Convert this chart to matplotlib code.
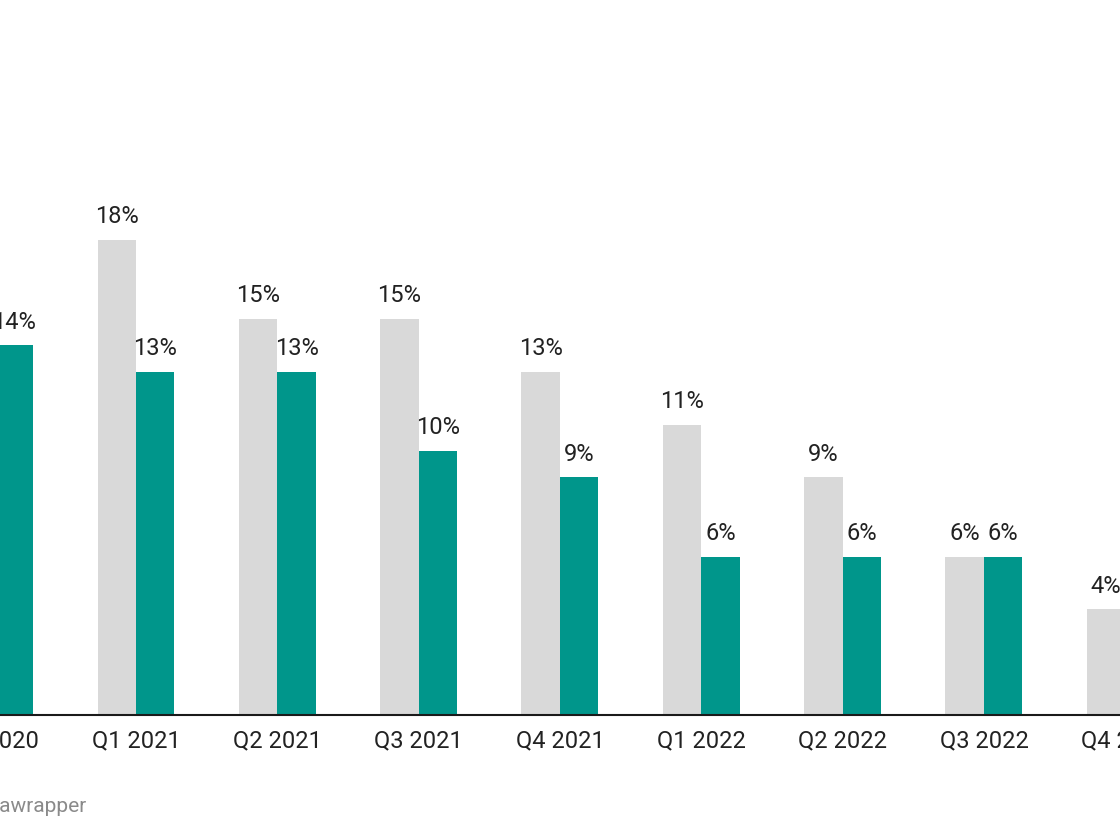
import numpy as np
import matplotlib
matplotlib.use("Agg")
import matplotlib.pyplot as plt
from matplotlib.transforms import ScaledTranslation

categories = ["Q4 2020", "Q1 2021", "Q2 2021", "Q3 2021", "Q4 2021",
              "Q1 2022", "Q2 2022", "Q3 2022", "Q4 2022"]
grey_values = [np.nan, 18, 15, 15, 13, 11, 9, 6, 4]
teal_values = [14, 13, 13, 10, 9, 6, 6, 6, np.nan]

GREY = "#d9d9d9"
TEAL = "#00968b"
TEXT = "#222222"
FS = 17

plt.rcParams["font.family"] = ["Roboto", "DejaVu Sans"]

fig = plt.figure(figsize=(11.2, 8.4), dpi=100)
ax = fig.add_axes([0, 125 / 840, 1, 715 / 840])

x = np.arange(len(categories))
w = 0.2724
ax.bar(x - w / 2, grey_values, width=w, color=GREY, linewidth=0, zorder=2)
ax.bar(x + w / 2, teal_values, width=w, color=TEAL, linewidth=0, zorder=2)

for xi, v in zip(x - w / 2, grey_values):
    if not np.isnan(v):
        ax.annotate(f"{v:.0f}%", (xi, v), xytext=(0, 12), textcoords="offset points",
                    ha="center", va="baseline", fontsize=FS, color=TEXT)
for xi, v in zip(x + w / 2, teal_values):
    if not np.isnan(v):
        ax.annotate(f"{v:.0f}%", (xi, v), xytext=(0, 12), textcoords="offset points",
                    ha="center", va="baseline", fontsize=FS, color=TEXT)

ax.set_xticks([])
ax.set_yticks([])
ax.set_xlim(5.33 / 141.33, 1125.33 / 141.33)
ax.set_ylim(0, 715 / 26.4)

# category labels below the baseline (including partially visible edge groups)
label_tr = ax.get_xaxis_transform() + ScaledTranslation(0, -32.3 / 100, fig.dpi_scale_trans)
for xi, cat in zip(x, categories):
    ax.text(xi, 0, cat, transform=label_tr, ha="center", va="baseline",
            fontsize=FS, color=TEXT, clip_on=False)

for s in ["top", "left", "right"]:
    ax.spines[s].set_visible(False)
ax.spines["bottom"].set_color("#1a1a1a")
ax.spines["bottom"].set_linewidth(1.5)
ax.spines["bottom"].set_zorder(3)
ax.patch.set_alpha(0)

fig.text(86 / 1120, (840 - 811.7) / 840, "Created with Datawrapper",
         ha="right", va="baseline", fontsize=15, color="#8a8a8a")

fig.savefig("out.png", dpi=100)
